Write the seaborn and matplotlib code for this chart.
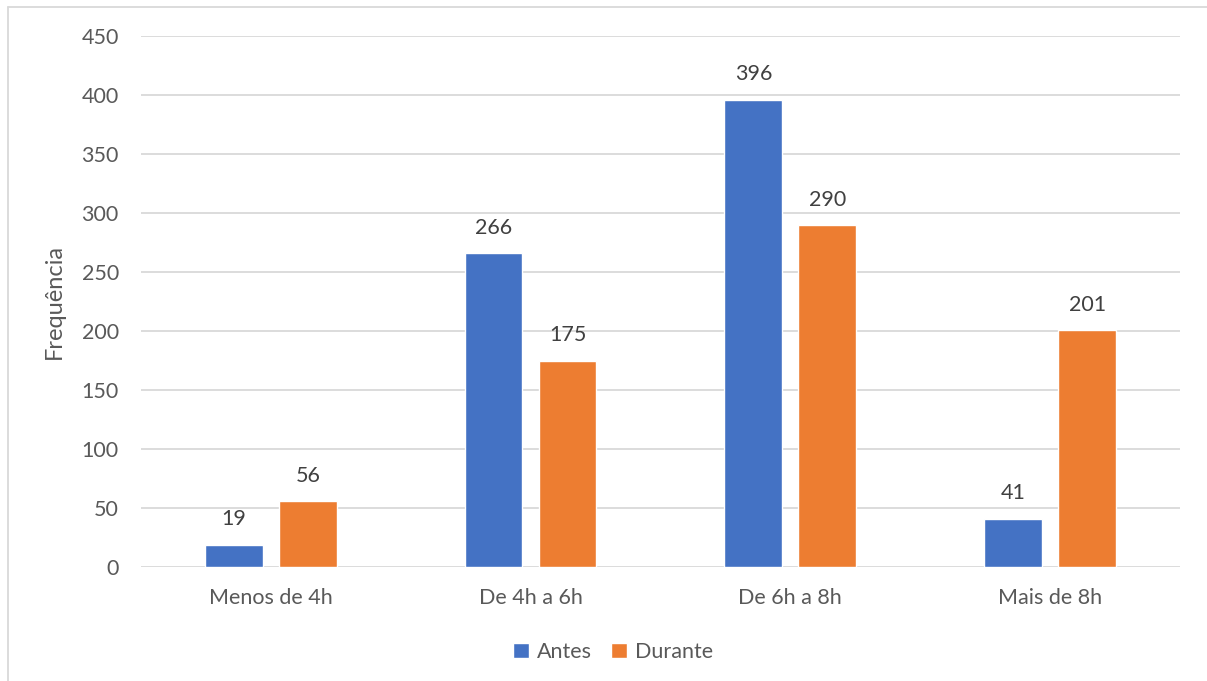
import matplotlib.pyplot as plt
import seaborn as sns
import pandas as pd
from matplotlib.lines import Line2D

# data
categories = ["Menos de 4h", "De 4h a 6h", "De 6h a 8h", "Mais de 8h"]
antes = [19, 266, 396, 41]
durante = [56, 175, 290, 201]
series_names = ["Antes", "Durante"]

df = pd.DataFrame({
    "Categoria": categories * 2,
    "Valor": antes + durante,
    "Serie": [series_names[0]] * len(categories) + [series_names[1]] * len(categories),
})

sns.set_theme(style="white")
plt.rcParams['font.family'] = ['Lato', 'DejaVu Sans']
text_color = '#595959'
fs = 15.5

fig = plt.figure(figsize=(12.07, 6.81), dpi=100)
ax = fig.add_axes([0.1168, 0.1674, 0.8608, 0.7797])

sns.barplot(data=df, x="Categoria", y="Valor", hue="Serie",
            palette=["#4472C4", "#ED7D31"], width=0.57, gap=0.22,
            saturation=1, ax=ax, legend=True)

for c in ax.containers:
    ax.bar_label(c, padding=11, fontsize=fs, color='#404040')

ax.set_ylim(0, 450)
ax.set_yticks(range(0, 451, 50))
ax.set_xlim(-0.5, 3.5)
ax.yaxis.grid(True, color='#d9d9d9', linewidth=1.3)
ax.set_axisbelow(True)
for s in ax.spines.values():
    s.set_visible(False)
ax.tick_params(axis='both', length=0, labelsize=fs, colors=text_color)
ax.tick_params(axis='y', pad=16)
ax.tick_params(axis='x', pad=15)
ax.set_xlabel("")
ax.set_ylabel("Frequência", fontsize=17, color=text_color, labelpad=12)

# legend sits centred on the whole chart, not on the plot area
handles, labels = ax.get_legend_handles_labels()
ax.get_legend().remove()
fig.legend(handles, labels, loc='center', bbox_to_anchor=(0.508, 1 - 652 / 681), ncol=2,
           frameon=False, fontsize=fs, labelcolor=text_color,
           handlelength=0.75, handleheight=0.75, handletextpad=0.35, columnspacing=0.9)

# chart frame (light gray border, clipped at right and bottom)
fig.add_artist(Line2D([8 / 1207, 8 / 1207], [0, 1 - 7 / 681], color='#d9d9d9', linewidth=1.3))
fig.add_artist(Line2D([8 / 1207, 1], [1 - 7 / 681, 1 - 7 / 681], color='#d9d9d9', linewidth=1.3))

fig.savefig("out.png", dpi=100, facecolor='white')
